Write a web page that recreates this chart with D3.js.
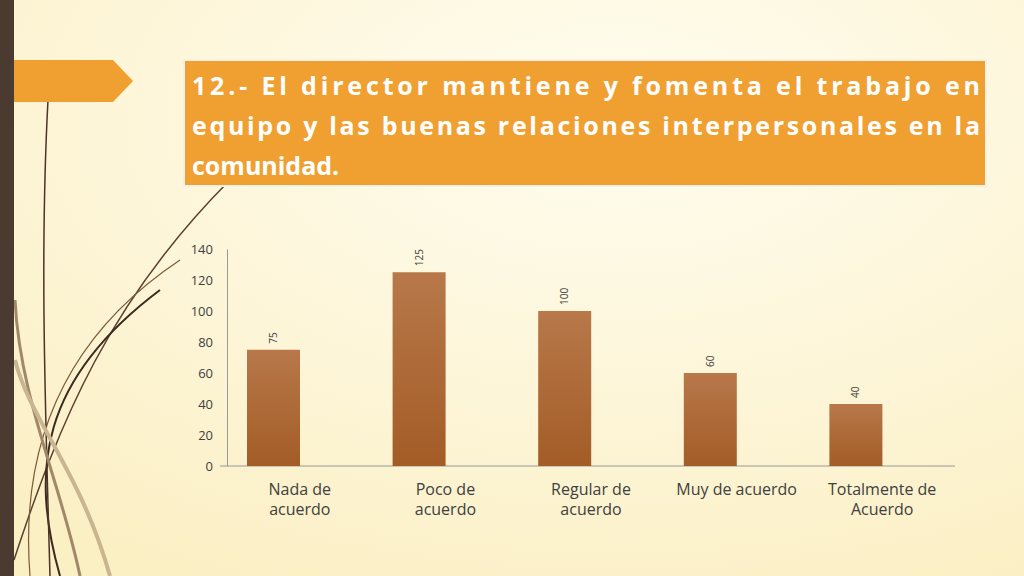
<!DOCTYPE html>
<html><head><meta charset="utf-8">
<script src="https://cdn.jsdelivr.net/npm/d3@7"></script>
<style>body{margin:0;overflow:hidden}</style>
</head><body><div id="chart"></div>
<script>
const categories = ["Nada de|acuerdo", "Poco de|acuerdo", "Regular de|acuerdo", "Muy de acuerdo", "Totalmente de|Acuerdo"];
const values = [75, 125, 100, 60, 40];
const yTicks = [0, 20, 40, 60, 80, 100, 120, 140];
const titleLines = ["12.- El director mantiene y fomenta el trabajo en", "equipo y las buenas relaciones interpersonales en la", "comunidad."];

const W = 1024, H = 576;
const svg = d3.select("#chart").append("svg").attr("width", W).attr("height", H);
const defs = svg.append("defs");
const bg = defs.append("radialGradient").attr("id", "bg").attr("cx", "60%").attr("cy", "20%").attr("r", "90%");
bg.append("stop").attr("offset", "0%").attr("stop-color", "#fffdf0");
bg.append("stop").attr("offset", "100%").attr("stop-color", "#fbefc4");
const bar = defs.append("linearGradient").attr("id", "bar").attr("x1", 0).attr("y1", 0).attr("x2", 0).attr("y2", 1);
bar.append("stop").attr("offset", "0%").attr("stop-color", "#b8784a");
bar.append("stop").attr("offset", "100%").attr("stop-color", "#a35c26");

svg.append("rect").attr("width", W).attr("height", H).attr("fill", "url(#bg)");

// decorative swirls
const deco = svg.append("g").attr("fill", "none");
[["M14,560 C60,420 110,300 230,180", "#5a4030", 1.5],
 ["M30,576 C20,450 60,340 180,260", "#7a5a3a", 1.2],
 ["M60,576 C30,470 40,380 160,290", "#3a2a20", 2],
 ["M50,576 C45,400 40,250 48,100", "#4a3426", 1.5],
 ["M80,576 C60,480 20,400 15,300", "#a08868", 3],
 ["M110,576 C80,470 30,420 15,360", "#c9b690", 4]].forEach(([d, c, w]) =>
  deco.append("path").attr("d", d).attr("stroke", c).attr("stroke-width", w));

svg.append("rect").attr("width", 14).attr("height", H).attr("fill", "#4a3a30");
svg.append("path").attr("d", "M14,60 L113,60 L133,81 L113,102 L14,102 Z").attr("fill", "#f0a030");

// title box
svg.append("rect").attr("x", 184).attr("y", 60).attr("width", 802).attr("height", 126)
  .attr("fill", "#f0a030").attr("stroke", "#f6f1e4").attr("stroke-width", 2);
titleLines.forEach((t, i) => {
  const tx = svg.append("text").attr("x", 192).attr("y", 95 + i * 40)
    .attr("fill", "#fff").attr("font-family", "'Open Sans', sans-serif").attr("font-weight", "bold")
    .attr("font-size", 25).text(t);
  if (i < 2) tx.attr("textLength", 788).attr("lengthAdjust", "spacing");
});

const x = d3.scaleBand().domain(categories).range([227, 955]);
const y = d3.scaleLinear().domain([0, 140]).range([466, 249]);

svg.append("g").attr("transform", "translate(227,0)")
  .call(d3.axisLeft(y).tickValues(yTicks).tickSize(0).tickPadding(14))
  .call(g => g.select(".domain").attr("stroke", "#999"))
  .selectAll("text").attr("font-family", "'Open Sans', sans-serif").attr("font-size", 13).attr("fill", "#404040");
svg.append("line").attr("x1", 220).attr("x2", 955).attr("y1", 466).attr("y2", 466).attr("stroke", "#999");

svg.selectAll(".bar").data(values).join("rect")
  .attr("x", (d, i) => x(categories[i]) + 20).attr("width", 53)
  .attr("y", d => y(d)).attr("height", d => 466 - y(d)).attr("fill", "url(#bar)");

svg.selectAll(".vl").data(values).join("text")
  .attr("transform", (d, i) => `translate(${x(categories[i]) + 50},${y(d) - 6}) rotate(-90)`)
  .attr("font-family", "'Open Sans', sans-serif").attr("font-size", 10).attr("fill", "#404040").text(d => d);

categories.forEach(c => {
  const t = svg.append("text").attr("x", x(c) + x.bandwidth() / 2).attr("y", 495)
    .attr("text-anchor", "middle").attr("font-family", "'Open Sans', sans-serif").attr("font-size", 16).attr("fill", "#404040");
  c.split("|").forEach((s, j) => t.append("tspan").attr("x", x(c) + x.bandwidth() / 2).attr("dy", j ? 20 : 0).text(s));
});
</script></body></html>
